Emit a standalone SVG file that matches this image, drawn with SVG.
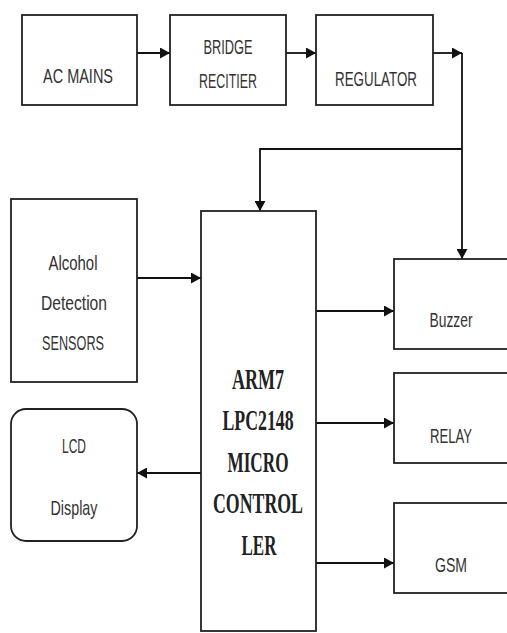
<svg xmlns="http://www.w3.org/2000/svg" width="507" height="633" viewBox="0 0 507 633">
<style>
.box{fill:#fff;stroke:#222;stroke-width:1.8}
.t{font-family:"Liberation Sans",Arial,sans-serif;font-size:21px;fill:#333;text-anchor:middle}
.b{font-family:"Liberation Serif","Times New Roman",serif;font-weight:bold;font-size:29px;fill:#222;text-anchor:middle}
.c{fill:none;stroke:#111;stroke-width:1.8}
</style>
<defs>
<marker id="ah" markerUnits="userSpaceOnUse" markerWidth="11" markerHeight="11" refX="10" refY="5.5" orient="auto">
<path d="M0,0 L10,5.5 L0,11 z" fill="#111"/>
</marker>
</defs>
<rect width="507" height="633" fill="#fff"/>
<g id="connectors">
<line class="c" x1="137" y1="53" x2="170" y2="53" marker-end="url(#ah)"/>
<line class="c" x1="286" y1="53" x2="316" y2="53" marker-end="url(#ah)"/>
<line class="c" x1="433" y1="53" x2="462" y2="53" marker-end="url(#ah)"/>
<line class="c" x1="462" y1="53" x2="462" y2="259" marker-end="url(#ah)"/>
<polyline class="c" points="462,149 260,149 260,211" marker-end="url(#ah)"/>
<line class="c" x1="137" y1="278" x2="201" y2="278" marker-end="url(#ah)"/>
<line class="c" x1="316" y1="311" x2="394" y2="311" marker-end="url(#ah)"/>
<line class="c" x1="316" y1="423" x2="394" y2="423" marker-end="url(#ah)"/>
<line class="c" x1="316" y1="563" x2="394" y2="563" marker-end="url(#ah)"/>
<line class="c" x1="201" y1="473" x2="137" y2="473" marker-end="url(#ah)"/>
</g>
<g id="ac-mains">
<rect class="box" x="22" y="15" width="115" height="90"/>
<text class="t" x="78" y="83" textLength="70" lengthAdjust="spacingAndGlyphs">AC MAINS</text>
</g>
<g id="bridge">
<rect class="box" x="170" y="15" width="116" height="90"/>
<text class="t" x="228" y="54" textLength="49" lengthAdjust="spacingAndGlyphs">BRIDGE</text>
<text class="t" x="228" y="88" textLength="58" lengthAdjust="spacingAndGlyphs">RECITIER</text>
</g>
<g id="regulator">
<rect class="box" x="316" y="15" width="117" height="90"/>
<text class="t" x="376" y="86" textLength="82" lengthAdjust="spacingAndGlyphs">REGULATOR</text>
</g>
<g id="sensors">
<rect class="box" x="11" y="199" width="126" height="183"/>
<text class="t" x="73" y="270" textLength="49" lengthAdjust="spacingAndGlyphs">Alcohol</text>
<text class="t" x="74" y="310" textLength="66" lengthAdjust="spacingAndGlyphs">Detection</text>
<text class="t" x="73" y="350" textLength="62" lengthAdjust="spacingAndGlyphs">SENSORS</text>
</g>
<g id="mcu">
<rect class="box" x="201" y="211" width="115" height="420"/>
<text class="b" x="258" y="389" textLength="52" lengthAdjust="spacingAndGlyphs">ARM7</text>
<text class="b" x="258" y="430" textLength="71" lengthAdjust="spacingAndGlyphs">LPC2148</text>
<text class="b" x="258" y="472" textLength="61" lengthAdjust="spacingAndGlyphs">MICRO</text>
<text class="b" x="258" y="513" textLength="90" lengthAdjust="spacingAndGlyphs">CONTROL</text>
<text class="b" x="259" y="555" textLength="35" lengthAdjust="spacingAndGlyphs">LER</text>
</g>
<g id="lcd">
<rect class="box" x="11" y="409" width="126" height="132" rx="15" ry="15"/>
<text class="t" x="74" y="453" textLength="24" lengthAdjust="spacingAndGlyphs">LCD</text>
<text class="t" x="74" y="515" textLength="47" lengthAdjust="spacingAndGlyphs">Display</text>
</g>
<g id="buzzer">
<rect class="box" x="394" y="259" width="130" height="90"/>
<text class="t" x="451" y="327" textLength="43" lengthAdjust="spacingAndGlyphs">Buzzer</text>
</g>
<g id="relay">
<rect class="box" x="394" y="373" width="130" height="90"/>
<text class="t" x="451" y="443" textLength="42" lengthAdjust="spacingAndGlyphs">RELAY</text>
</g>
<g id="gsm">
<rect class="box" x="394" y="503" width="130" height="90"/>
<text class="t" x="451" y="572" textLength="32" lengthAdjust="spacingAndGlyphs">GSM</text>
</g>
</svg>
